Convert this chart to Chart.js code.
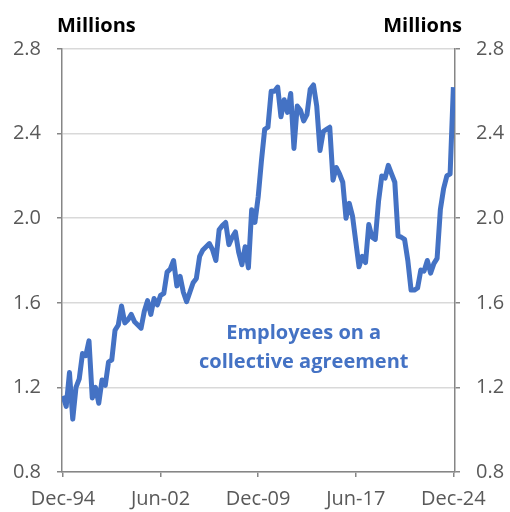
<!DOCTYPE html>
<html>
<head>
<meta charset="utf-8">
<script src="https://cdn.jsdelivr.net/npm/chart.js@4.4.0/dist/chart.umd.min.js"></script>
<style>
  html, body { margin: 0; padding: 0; background: #fff; }
  #wrap { width: 510px; height: 512px; position: relative; }
</style>
</head>
<body>
<div id="wrap"><canvas id="chart"></canvas></div>
<script>
// Quarterly, Dec-94 .. Dec-24 (index 0 = Dec-94)
const employees = [
  1.16, 1.11, 1.27, 1.05, 1.20, 1.24, 1.36, 1.35, 1.42, 1.15,
  1.20, 1.125, 1.235, 1.21, 1.32, 1.33, 1.47, 1.495, 1.585, 1.505,
  1.52, 1.545, 1.51, 1.495, 1.48, 1.56, 1.61, 1.545, 1.62, 1.59,
  1.635, 1.645, 1.745, 1.76, 1.80, 1.68, 1.725, 1.65, 1.605, 1.65,
  1.695, 1.715, 1.82, 1.85, 1.865, 1.88, 1.85, 1.80, 1.945, 1.965,
  1.98, 1.875, 1.91, 1.935, 1.84, 1.78, 1.865, 1.765, 2.04, 1.98,
  2.10, 2.27, 2.42, 2.43, 2.60, 2.60, 2.62, 2.48, 2.56, 2.50,
  2.59, 2.33, 2.53, 2.51, 2.46, 2.49, 2.61, 2.63, 2.53, 2.32,
  2.41, 2.42, 2.43, 2.18, 2.24, 2.21, 2.17, 2.00, 2.07, 2.01,
  1.89, 1.77, 1.82, 1.79, 1.97, 1.91, 1.90, 2.08, 2.20, 2.19,
  2.25, 2.21, 2.17, 1.915, 1.91, 1.90, 1.80, 1.66, 1.66, 1.67,
  1.755, 1.75, 1.80, 1.74, 1.785, 1.81, 2.04, 2.14, 2.20, 2.21,
  2.62
];

const tickIndex = [0, 30, 60, 90, 120];
const tickLabels = ['Dec-94', 'Jun-02', 'Dec-09', 'Jun-17', 'Dec-24'];
const seriesLabel = ['Employees on a', 'collective agreement'];
const unitLabel = 'Millions';

const axisGrey = '#868686';
const textGrey = '#595959';
const blue = '#4472C4';
const tickFont = { family: 'Open Sans', size: 20 };

// "Millions" headers and the in-chart series label
const textPlugin = {
  id: 'texts',
  afterDraw(chart) {
    const ctx = chart.ctx;
    const area = chart.chartArea;
    ctx.save();
    ctx.fillStyle = '#000';
    ctx.font = 'bold 20px "Open Sans"';
    ctx.textBaseline = 'alphabetic';
    ctx.textAlign = 'left';
    ctx.fillText(unitLabel, area.left - 5, 32);
    ctx.textAlign = 'right';
    ctx.fillText(unitLabel, area.right + 7, 32);

    const xs = chart.scales.x, ys = chart.scales.y;
    const cx = xs.getPixelForValue(74);
    ctx.fillStyle = blue;
    ctx.textAlign = 'center';
    ctx.textBaseline = 'middle';
    ctx.fillText(seriesLabel[0], cx, ys.getPixelForValue(1.455));
    ctx.fillText(seriesLabel[1], cx, ys.getPixelForValue(1.318));
    ctx.restore();
  }
};

new Chart(document.getElementById('chart'), {
  type: 'line',
  data: {
    datasets: [{
      data: employees.map((v, i) => ({ x: i, y: v })),
      borderColor: blue,
      borderWidth: 5,
      pointRadius: 0,
      tension: 0,
      borderJoinStyle: 'round',
      yAxisID: 'y'
    }]
  },
  options: {
    responsive: true,
    maintainAspectRatio: false,
    animation: false,
    layout: { padding: { top: 49 } },
    plugins: { legend: { display: false }, tooltip: { enabled: false } },
    scales: {
      x: {
        type: 'linear',
        min: -0.3,
        max: 120.5,
        afterBuildTicks: s => { s.ticks = tickIndex.map(v => ({ value: v })); },
        afterFit: s => { s.height = 40; },
        grid: { drawOnChartArea: false, tickLength: 5, tickColor: axisGrey, lineWidth: 1.5 },
        border: { color: axisGrey, width: 1.5 },
        ticks: {
          autoSkip: false,
          maxRotation: 0,
          padding: 10,
          color: textGrey,
          font: tickFont,
          callback: v => tickLabels[tickIndex.indexOf(v)]
        }
      },
      y: {
        position: 'left',
        min: 0.8,
        max: 2.8,
        afterFit: s => { s.width = 62; },
        grid: { color: '#d9d9d9', lineWidth: 1.5, tickLength: 5, tickColor: axisGrey },
        border: { color: axisGrey, width: 1.5 },
        ticks: { stepSize: 0.4, padding: 16, color: textGrey, font: tickFont, callback: v => v.toFixed(1) }
      },
      y2: {
        position: 'right',
        min: 0.8,
        max: 2.8,
        afterFit: s => { s.width = 55; },
        grid: { drawOnChartArea: false, tickLength: 5, tickColor: axisGrey, lineWidth: 1.5 },
        border: { color: axisGrey, width: 1.5 },
        ticks: { stepSize: 0.4, padding: 16, color: textGrey, font: tickFont, callback: v => v.toFixed(1) }
      }
    }
  },
  plugins: [textPlugin]
});
</script>
</body>
</html>
